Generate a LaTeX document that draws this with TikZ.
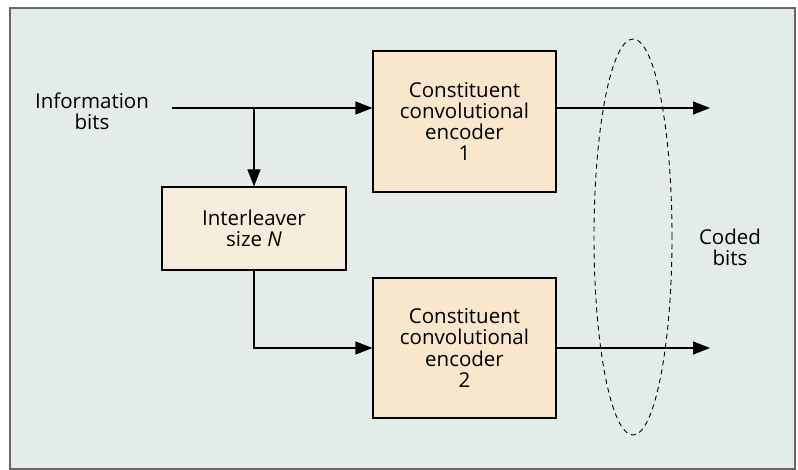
\documentclass[tikz,border=0pt]{standalone}
\usepackage{fontspec}
\setmainfont{Open Sans}
\usetikzlibrary{arrows.meta, positioning, calc}

\definecolor{panelbg}{HTML}{E3ECE9}
\definecolor{encfill}{HTML}{F8E6CD}
\definecolor{ilvfill}{HTML}{F7EDDC}

\begin{document}
\begin{tikzpicture}[x=1pt, y=1pt, font=\fontsize{20.5}{21.3}\selectfont,
    block/.style={draw, line width=1.1pt, align=center, inner sep=0pt},
    flow/.style={line width=1.1pt, -{Triangle[length=17pt, width=13pt]}}]
    % Frame
    \useasboundingbox (0,0) rectangle (798,-470);
    \draw[fill=panelbg, draw=black!60, line width=1.4pt] (10,-8) rectangle (795,-469);

    % Blocks
    \node[block, fill=encfill, minimum width=183pt, minimum height=141pt] (enc1) at (464.5,-121.5)
        {Constituent\\convolutional\\encoder\\1};
    \node[block, fill=encfill, minimum width=183pt, minimum height=140pt] (enc2) at (464.5,-348)
        {Constituent\\convolutional\\encoder\\2};
    \node[block, fill=ilvfill, minimum width=184pt, minimum height=83pt] (ilv) at (254,-228.5)
        {Interleaver\\size \textit{N}};

    % Labels
    \node[align=center] (info) at (92,-111) {Information\\bits};
    \node[align=center] (coded) at (730,-247) {Coded\\bits};

    % Points
    \coordinate (in) at (172,-108);
    \coordinate (split) at (ilv.north |- in);
    \coordinate (out1) at (710,-108);
    \coordinate (out2) at (710,-348);

    % Connections
    \draw[flow] (in) -- (enc1.west |- in);
    \draw[flow] (split) -- (ilv.north);
    \draw[flow] (ilv.south) |- (enc2.west |- out2);
    \draw[flow] (enc1.east |- out1) -- (out1);
    \draw[flow] (enc2.east |- out2) -- (out2);

    % Grouping
    \draw[dashed, dash pattern=on 5pt off 4pt, line width=0.9pt] (633,-237) ellipse (39pt and 198pt);
\end{tikzpicture}
\end{document}
